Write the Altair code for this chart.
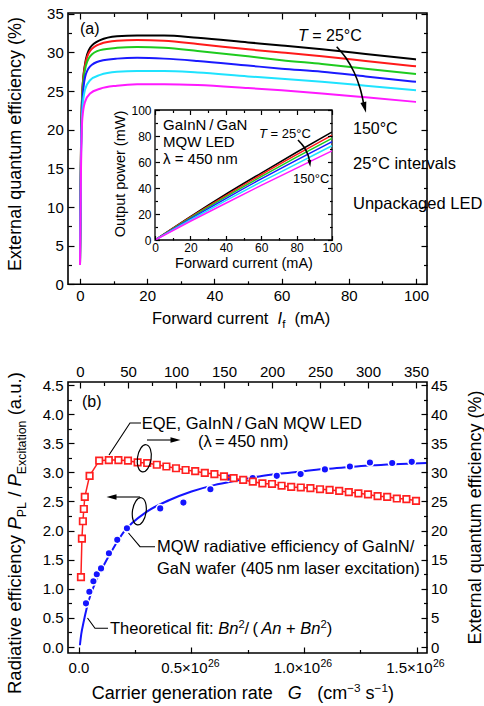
import altair as alt
import pandas as pd

FONT = "Liberation Sans"

# ---------------- data ----------------
TEMPS_C = ["25", "50", "75", "100", "125", "150"]
LINE_COLORS = ["#000000", "#ff1a1a", "#1ecb1e", "#1a1aff", "#1fe3ff", "#ff1aff"]

# panel (a): EQE (%) vs forward current (mA)
CURRENT_A_MA = [0, 0.3, 0.7, 1.5, 3, 6, 11, 17, 25, 35, 50, 60, 72, 85, 100]
EQE_25C = [2.5, 18.0, 25.0, 28.5, 30.6, 31.6, 32.1, 32.2, 32.2, 31.9, 31.3, 30.9, 30.4, 29.8, 29.1]
EQE_50C = [2.5, 18.0, 25.0, 28.3, 30.2, 31.1, 31.5, 31.6, 31.5, 31.1, 30.4, 30.0, 29.5, 28.9, 28.2]
EQE_75C = [2.5, 17.5, 24.5, 27.8, 29.5, 30.3, 30.6, 30.7, 30.6, 30.2, 29.5, 29.0, 28.5, 27.9, 27.2]
EQE_100C = [2.5, 17.0, 23.5, 26.8, 28.2, 28.9, 29.2, 29.3, 29.2, 28.9, 28.3, 27.9, 27.5, 26.9, 26.2]
EQE_125C = [2.5, 16.0, 22.5, 25.2, 26.4, 27.1, 27.5, 27.6, 27.6, 27.4, 26.9, 26.6, 26.2, 25.7, 25.1]
EQE_150C = [2.5, 15.0, 21.5, 23.6, 24.7, 25.3, 25.7, 25.9, 25.9, 25.8, 25.4, 25.1, 24.7, 24.2, 23.6]
EQE_SERIES = [EQE_25C, EQE_50C, EQE_75C, EQE_100C, EQE_125C, EQE_150C]

# inset: output power (mW) vs forward current (mA)
INSET_CURRENT_MA = [0, 20, 40, 60, 80, 100]
POWER_25C = [0, 18.0, 35.2, 51.5, 67.5, 83.0]
POWER_50C = [0, 17.6, 34.2, 50.2, 65.6, 80.6]
POWER_75C = [0, 17.1, 33.2, 48.7, 63.7, 78.2]
POWER_100C = [0, 16.3, 31.9, 47.0, 61.5, 75.6]
POWER_125C = [0, 15.4, 30.3, 44.7, 58.6, 72.5]
POWER_150C = [0, 14.4, 28.3, 42.0, 55.3, 68.6]
POWER_SERIES = [POWER_25C, POWER_50C, POWER_75C, POWER_100C, POWER_125C, POWER_150C]

# panel (b): LED EQE (%) vs current (mA, top axis)
LED_CURRENT_MA = [1, 2, 3, 4, 5, 10, 20, 30, 40, 50, 60, 70, 80, 90, 100, 110, 120, 130, 140, 150,
                  160, 170, 180, 190, 200, 210, 220, 230, 240, 250, 260, 270, 280, 290, 300, 310,
                  320, 330, 340, 350]
LED_EQE_PCT = [12.0, 18.6, 21.6, 23.7, 25.8, 29.4, 32.0, 32.1, 32.1, 32.0, 31.7, 31.6, 31.3, 31.0,
               30.7, 30.4, 30.2, 29.9, 29.7, 29.3, 29.0, 28.7, 28.4, 28.1, 28.0, 27.7, 27.5, 27.4,
               27.3, 27.1, 27.0, 26.8, 26.6, 26.4, 26.2, 25.9, 25.8, 25.5, 25.4, 25.1]

# panel (b): MQW radiative efficiency vs carrier generation rate (1e26 cm^-3 s^-1)
PL_G = [0.031, 0.046, 0.064, 0.079, 0.098, 0.133, 0.170, 0.213, 0.361, 0.464, 0.584, 0.665,
        0.772, 0.879, 0.985, 1.093, 1.204, 1.293, 1.392, 1.479]
PL_EFF = [0.75, 0.95, 1.13, 1.25, 1.35, 1.61, 1.84, 2.04, 2.38, 2.48, 2.71, 2.91, 2.90, 2.94,
          2.97, 3.05, 3.10, 3.17, 3.16, 3.18]

# panel (b): theoretical fit curve
FIT_G = [0.004, 0.01, 0.02, 0.035, 0.05, 0.075, 0.1, 0.15, 0.2, 0.3, 0.4, 0.5, 0.6, 0.7, 0.8,
         0.9, 1.0, 1.1, 1.2, 1.3, 1.4, 1.545]
FIT_EFF = [0.03, 0.22, 0.42, 0.68, 0.88, 1.13, 1.33, 1.68, 1.98, 2.32, 2.52, 2.67, 2.78, 2.86,
           2.93, 2.98, 3.02, 3.06, 3.09, 3.12, 3.14, 3.16]

# tick labels
A_X_LABELS = [0, 20, 40, 60, 80, 100]
A_Y_LABELS = [0, 5, 10, 15, 20, 25, 30, 35]
INSET_LABELS = [0, 20, 40, 60, 80, 100]
B_TOP_LABELS = [0, 50, 100, 150, 200, 250, 300, 350]
B_LEFT_LABELS = [0.0, 0.5, 1.0, 1.5, 2.0, 2.5, 3.0, 3.5, 4.0, 4.5]
B_RIGHT_LABELS = [0, 5, 10, 15, 20, 25, 30, 35, 40, 45]
G_TICK_VALUES = [0.0, 0.5, 1.0, 1.5]
G_TICK_BASE = ["0.0", "0.5×10", "1.0×10", "1.5×10"]
G_TICK_EXP = ["", "26", "26", "26"]

BLUE = "#1414ff"
RED = "#ff2020"

# ---------------- layout ----------------
LEFT, TOP = 68, 13
W, H = 359, 640


def lx(px):
    return px - LEFT


def ly(py):
    return py - TOP


def sc(domain, rng):
    return alt.Scale(domain=domain, range=rng, nice=False, zero=False)


XA = sc([0, 100], [lx(80), lx(416)])
YA = sc([0, 35], [ly(284.3), ly(13.8)])
XI = sc([0, 100], [lx(155), lx(332)])
YI = sc([0, 100], [ly(240), ly(110)])
XG = sc([0, 1.5], [lx(79), lx(416.5)])
XC = sc([0, 350], [lx(80), lx(416)])
YE = sc([0, 4.5], [ly(647), ly(385)])
YQ = sc([0, 45], [ly(647), ly(385)])


def label_axis(orient, values, offset=0, size=15, pad=4, fmt=None):
    kw = dict(orient=orient, values=values, offset=offset, ticks=False, tickSize=0,
              domain=False, grid=False, title=None, labelFont=FONT, labelFontSize=size,
              labelColor="black", labelPadding=pad, labelOverlap=False, labelFlush=False,
              labelBound=False, zindex=1)
    if fmt:
        kw["format"] = fmt
    return alt.Axis(**kw)


def tick_axis(orient, values, offset, test, big=6, small=3.5):
    return alt.Axis(orient=orient, values=values, offset=offset, labels=False, domain=False,
                    grid=False, title=None, ticks=True, tickColor="black", tickWidth=1.2,
                    tickSize={"condition": {"test": test, "value": big}, "value": small},
                    zindex=1)


def carrier(xscale, xaxis, yscale, yaxis):
    df = pd.DataFrame({"x": [xscale.domain[0], xscale.domain[1]],
                       "y": [yscale.domain[0], yscale.domain[1]]})
    return alt.Chart(df).mark_point(opacity=0).encode(
        x=alt.X("x:Q", scale=xscale, axis=xaxis),
        y=alt.Y("y:Q", scale=yscale, axis=yaxis))


def steps(a, b, d):
    n = int(round((b - a) / d))
    return [round(a + k * d, 4) for k in range(n + 1)]


MAJ20 = "abs(datum.value % 20) < 1e-6"
MAJ5 = "abs(datum.value % 5) < 1e-6"
MAJ50 = "abs(datum.value % 50) < 1e-6"
MAJHALF = "abs(datum.value*2 - round(datum.value*2)) < 1e-6"

layers = []

# ---------------- panel (a) ----------------
color = alt.Color("T:N", scale=alt.Scale(domain=TEMPS_C, range=LINE_COLORS), legend=None)
rows = []
for k, (t, ser) in enumerate(zip(TEMPS_C, EQE_SERIES)):
    for i, v in zip(CURRENT_A_MA, ser):
        rows.append(dict(I=i, eqe=v, T=t, k=k))
dfa = pd.DataFrame(rows)
layers.append(alt.Chart(dfa).mark_line(strokeWidth=2, interpolate="monotone").encode(
    x=alt.X("I:Q", scale=XA, axis=label_axis("bottom", A_X_LABELS, offset=-(H - ly(284.3)), pad=4)),
    y=alt.Y("eqe:Q", scale=YA, axis=label_axis("left", A_Y_LABELS, pad=4.7)),
    color=color, detail="k:N"))
layers.append(carrier(XA, tick_axis("top", steps(0, 100, 10), -ly(284.3), MAJ20),
                      YA, tick_axis("right", steps(0, 35, 2.5), -W, MAJ5)))
layers.append(carrier(XA, tick_axis("bottom", steps(0, 100, 10), -H, MAJ20),
                      YA, tick_axis("left", steps(0, 35, 2.5), -W, MAJ5)))

# inset
layers.append(alt.Chart(pd.DataFrame({"x0": [0], "x1": [100], "y0": [0], "y1": [100]}))
              .mark_rect(fill="white", stroke="black", strokeWidth=1.3).encode(
    x=alt.X("x0:Q", scale=XI, axis=None), x2="x1:Q",
    y=alt.Y("y0:Q", scale=YI, axis=None), y2="y1:Q"))
rows = []
for k, (t, ser) in enumerate(zip(TEMPS_C, POWER_SERIES)):
    for i, v in zip(INSET_CURRENT_MA, ser):
        rows.append(dict(I=i, P=v, T=t, k=k))
dfi = pd.DataFrame(rows)
layers.append(alt.Chart(dfi).mark_line(strokeWidth=1.5, interpolate="monotone").encode(
    x=alt.X("I:Q", scale=XI, axis=label_axis("bottom", INSET_LABELS, offset=-(H - ly(240)), size=12, pad=2.5)),
    y=alt.Y("P:Q", scale=YI, axis=label_axis("left", INSET_LABELS, offset=-lx(155), size=12, pad=4)),
    color=color, detail="k:N"))
layers.append(carrier(XI, tick_axis("top", steps(0, 100, 10), -ly(240), MAJ20, 4.5, 2.5),
                      YI, tick_axis("right", steps(0, 100, 10), -(W - lx(155)), MAJ20, 4.5, 2.5)))
layers.append(carrier(XI, tick_axis("bottom", steps(0, 100, 10), -(H - ly(110)), MAJ20, 4.5, 2.5),
                      YI, tick_axis("left", steps(0, 100, 10), -lx(332), MAJ20, 4.5, 2.5)))

# ---------------- panel (b) ----------------
df_fit = pd.DataFrame({"G": FIT_G, "eff": FIT_EFF})
df_pl = pd.DataFrame({"G": PL_G, "eff": PL_EFF})
df_led = pd.DataFrame({"I": LED_CURRENT_MA, "eqe": LED_EQE_PCT})

layers.append(alt.Chart(df_fit).mark_line(color=BLUE, strokeWidth=2, interpolate="monotone").encode(
    x=alt.X("G:Q", scale=XG, axis=None),
    y=alt.Y("eff:Q", scale=YE, axis=label_axis("left", B_LEFT_LABELS, fmt=".1f", pad=5))))
layers.append(alt.Chart(df_pl).mark_point(shape="circle", filled=True, size=58, fill=BLUE,
                                          stroke="white", strokeWidth=1.5, opacity=1).encode(
    x=alt.X("G:Q", scale=XG, axis=None), y=alt.Y("eff:Q", scale=YE, axis=None)))
layers.append(alt.Chart(df_led).mark_line(color=RED, strokeWidth=1.5).encode(
    x=alt.X("I:Q", scale=XC, axis=label_axis("top", B_TOP_LABELS, offset=-ly(382), pad=3)),
    y=alt.Y("eqe:Q", scale=YQ, axis=label_axis("right", B_RIGHT_LABELS, pad=3.5))))
layers.append(alt.Chart(df_led).mark_point(shape="square", filled=False, size=42, fill="white",
                                           fillOpacity=1, stroke=RED, strokeWidth=1.7, opacity=1).encode(
    x=alt.X("I:Q", scale=XC, axis=None), y=alt.Y("eqe:Q", scale=YQ, axis=None)))
layers.append(carrier(XG, tick_axis("top", steps(0, 1.5, 0.25), -H, MAJHALF),
                      YE, tick_axis("right", steps(0, 4.5, 0.25), -W, MAJHALF)))
layers.append(carrier(XC, tick_axis("bottom", steps(0, 350, 25), -(H - ly(382)), MAJ50),
                      YQ, tick_axis("left", steps(0, 45, 2.5), -W, MAJ5)))

# bottom tick labels of panel (b) with superscript exponent
df_gt = pd.DataFrame({"G": G_TICK_VALUES, "base": G_TICK_BASE, "exp": G_TICK_EXP})
layers.append(alt.Chart(df_gt.iloc[:1]).mark_text(font=FONT, fontSize=15, align="center",
                                                  baseline="alphabetic", color="black").encode(
    x=alt.X("G:Q", scale=XG, axis=None), y=alt.value(ly(673)), text="base:N"))
layers.append(alt.Chart(df_gt.iloc[1:]).mark_text(font=FONT, fontSize=15, align="right", dx=16.0,
                                                  baseline="alphabetic", color="black").encode(
    x=alt.X("G:Q", scale=XG, axis=None), y=alt.value(ly(673)), text="base:N"))
layers.append(alt.Chart(df_gt.iloc[1:]).mark_text(font=FONT, fontSize=10.5, align="left", dx=16.5,
                                                  baseline="alphabetic", color="black").encode(
    x=alt.X("G:Q", scale=XG, axis=None), y=alt.value(ly(666.5)), text="exp:N"))


# ---------------- annotations ----------------
def polyline_layer(paths, interpolate="linear", width=1.0):
    rows = []
    for pid, pts in enumerate(paths):
        for k, (px, py) in enumerate(pts):
            rows.append(dict(x=lx(px), y=ly(py), id=pid, o=k))
    return alt.Chart(pd.DataFrame(rows)).mark_line(color="black", strokeWidth=width,
                                                   interpolate=interpolate).encode(
        x=alt.X("x:Q", scale=None, axis=None), y=alt.Y("y:Q", scale=None, axis=None),
        detail="id:N", order="o:Q")


def symbol_layer(pts, shape, size, filled=True, angle=0, sw=1.2):
    df = pd.DataFrame([dict(x=lx(px), y=ly(py)) for px, py in pts])
    return alt.Chart(df).mark_point(shape=shape, size=size, filled=filled, color="black",
                                    angle=angle, strokeWidth=sw, opacity=1).encode(
        x=alt.X("x:Q", scale=None, axis=None), y=alt.Y("y:Q", scale=None, axis=None))


HEAD_DOWN = "M-0.55,-1L0.55,-1L0,1Z"
HEAD_RIGHT = "M-1,-0.55L-1,0.55L1,0Z"
HEAD_LEFT = "M1,-0.55L1,0.55L-1,0Z"
ELLIPSE = ("M0,-1C0.276,-1 0.5,-0.552 0.5,0C0.5,0.552 0.276,1 0,1"
           "C-0.276,1 -0.5,0.552 -0.5,0C-0.5,-0.552 -0.276,-1 0,-1Z")

layers.append(polyline_layer([
    [(141, 423), (130, 423), (109, 455)],
    [(155, 546.7), (140, 546.7), (128.5, 533)],
    [(108, 628.3), (95, 628.3), (87.5, 618)],
    [(147, 440), (176, 440)],
    [(140, 497), (111, 497)],
], width=1.1))
layers.append(polyline_layer([
    [(336.7, 46.7), (346, 58), (354, 72), (360, 88), (363.5, 103)],
    [(298, 140), (304, 147), (308, 155), (309.5, 161)],
], interpolate="cardinal", width=1.6))
layers.append(symbol_layer([(364.7, 107.5)], HEAD_DOWN, 121, angle=346))
layers.append(symbol_layer([(309.8, 163.5)], HEAD_DOWN, 49, angle=352))
layers.append(symbol_layer([(175.5, 440)], HEAD_RIGHT, 100))
layers.append(symbol_layer([(111.5, 497)], HEAD_LEFT, 100))
layers.append(symbol_layer([(144.3, 458.3), (139.3, 511.3)], ELLIPSE, 750, filled=False, angle=8, sw=1.2))

# panel frames
one = pd.DataFrame({"k": [0]})
layers.append(alt.Chart(one).mark_rect(fillOpacity=0, stroke="black", strokeWidth=1.6).encode(
    x=alt.value(0), x2=alt.value(W), y=alt.value(0), y2=alt.value(ly(284.3))))
layers.append(alt.Chart(one).mark_rect(fillOpacity=0, stroke="black", strokeWidth=1.6).encode(
    x=alt.value(0), x2=alt.value(W), y=alt.value(ly(382)), y2=alt.value(H)))

# ---------------- text ----------------
CW = dict(zip("abcdefghijklmnopqrstuvwxyz",
              [556, 556, 500, 556, 556, 278, 556, 556, 222, 222, 500, 222, 833, 556, 556, 556,
               556, 333, 500, 278, 556, 500, 722, 500, 500, 500]))
CW.update(dict(zip("ABCDEFGHIJKLMNOPQRSTUVWXYZ",
                   [667, 667, 722, 722, 667, 611, 778, 722, 278, 500, 667, 556, 833, 722, 778,
                    667, 778, 722, 667, 611, 722, 667, 944, 667, 667, 611])))
CW.update({" ": 278, ".": 278, ",": 278, ":": 278, "(": 333, ")": 333, "/": 278, "=": 584,
           "+": 584, "−": 584, "×": 584, "°": 400, "%": 889, "λ": 556, "\u2009": 200, "-": 333})
for d in "0123456789":
    CW[d] = 556


def tw(s, size):
    return sum(CW.get(c, 556) for c in s) * size / 1000.0


TEXT_ROWS = []


def put(x, y, t, size, italic=False, align="left", angle=0):
    TEXT_ROWS.append(dict(x=lx(x), y=ly(y), t=t, s=size, st="italic" if italic else "normal",
                          al=align, an=angle))


def plain(x, yc, t, size, align="left", italic=False):
    put(x, yc + 0.35 * size, t, size, italic, align)


def vplain(xc, yc, t, size):
    put(xc + 0.35 * size, yc, t, size, False, "center", 270)


def rich(x0, yc, runs, size, vertical=False):
    """Lay out text runs one after another (spaces become explicit advances)."""
    cur = yc if vertical else x0
    base = (x0 + 0.35 * size) if vertical else (yc + 0.35 * size)
    sign = -1 if vertical else 1
    for run in runs:
        if isinstance(run, (int, float)):
            cur += sign * run
            continue
        text, it, rel, sh = run
        s = size * rel
        lead = len(text) - len(text.lstrip(" "))
        cur += sign * tw(" " * lead, s)
        body = text.lstrip(" ")
        if body.strip():
            if vertical:
                put(base + sh * size, cur, body.rstrip(" "), s, it, "left", 270)
            else:
                put(cur, base + sh * size, body.rstrip(" "), s, it, "left", 0)
        cur += sign * tw(body, s)


N = lambda t, rel=1.0, sh=0.0: (t, False, rel, sh)
I_ = lambda t, rel=1.0, sh=0.0: (t, True, rel, sh)

# panel (a)
plain(80, 28, "(a)", 16)
rich(298, 35, [I_("T"), N(" = 25°C")], 16)
plain(353, 128, "150°C", 16)
plain(353, 163, "25°C intervals", 16.5)
plain(353, 203, "Unpackaged LED", 16.5)
vplain(15, 144, "External quantum efficiency (%)", 18)
rich(152, 318.3, [N("Forward current  "), I_("I"), N("f", 0.7, 0.25), N("  (mA)")], 16.5)
# inset
plain(163, 125, "GaInN\u2009/\u2009GaN", 15)
plain(163, 141.7, "MQW LED", 15)
plain(163, 158.3, "λ = 450 nm", 15)
rich(259, 133, [I_("T"), N(" = 25°C")], 13)
plain(293, 178, "150°C", 13)
vplain(120, 174, "Output power (mW)", 14.5)
plain(244, 263, "Forward current (mA)", 14.5, align="center")
# panel (b)
plain(82, 401.7, "(b)", 16)
plain(141.7, 423, "EQE, GaInN\u2009/\u2009GaN MQW LED", 16.5)
plain(198, 441.7, "(λ\u2009=\u2009450 nm)", 16.5)
plain(157, 546.7, "MQW radiative efficiency of GaInN/", 16.5)
plain(157, 568, "GaN wafer (405\u2009nm laser excitation)", 16.5)
rich(110, 628.3, [N("Theoretical fit: "), I_("Bn"), N("2", 0.68, -0.38), N("\u2009/\u2009("),
                  I_("An"), N(" + "), I_("Bn"), N("2", 0.68, -0.38), N(")")], 16.5)
rich(91.7, 692.7, [N("Carrier generation rate"), 15, I_("G"), 15.5, N("(cm"),
                   N("−3", 0.65, -0.4), N(" s"), N("−1", 0.65, -0.4), N(")")], 18)
rich(15, 694, [N("Radiative efficiency "), I_("P"), N("PL", 0.67, 0.25), N(" / "), I_("P"),
               N("Excitation", 0.67, 0.25), N(" (a.u.)")], 18.5, vertical=True)
vplain(475, 517.5, "External quantum efficiency (%)", 18)

tdf = pd.DataFrame(TEXT_ROWS)
for (st, al, an), g in tdf.groupby(["st", "al", "an"]):
    layers.append(alt.Chart(g.reset_index(drop=True)).mark_text(
        font=FONT, fontStyle=st, align=al, baseline="alphabetic", angle=int(an), color="black").encode(
        x=alt.X("x:Q", scale=None, axis=None), y=alt.Y("y:Q", scale=None, axis=None),
        text="t:N", size=alt.Size("s:Q", scale=None, legend=None)))

chart = (alt.layer(*layers)
         .resolve_scale(x="independent", y="independent")
         .resolve_axis(x="independent", y="independent")
         .properties(width=W, height=H, autosize=alt.AutoSizeParams(type="none"),
                     padding={"left": LEFT, "top": TOP, "right": 484 - LEFT - W,
                              "bottom": 706 - TOP - H})
         .configure_view(stroke=None))

chart.save("out.html", embed_options={"renderer": "svg", "actions": False})
